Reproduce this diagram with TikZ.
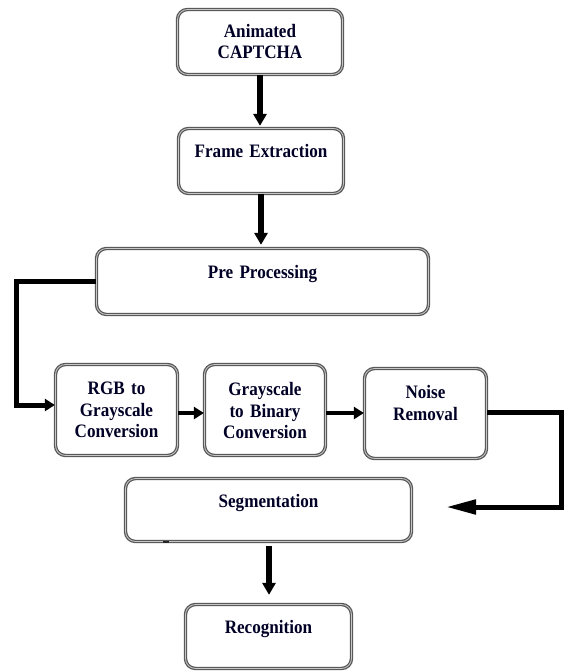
\documentclass[tikz,border=0pt]{standalone}
\usepackage{fontspec}
\setmainfont{Liberation Serif}
\newfontfamily\boxfont[FakeStretch=0.9,WordSpace=0.7]{Liberation Serif}
\usetikzlibrary{arrows.meta}
\begin{document}
\begin{tikzpicture}[x=1pt,y=-1pt,
  box/.style={draw=black!65, double=black!22, double distance=0.8pt, line width=1.3pt,
    rounded corners=10pt, fill=white, inner sep=0pt},
  txt/.style={anchor=base, inner sep=0pt, align=center, text width=130pt,
    font=\fontsize{19}{22.5}\boxfont\bfseries, text=black!85!blue},
  arr/.style={line width=5.5pt, line join=miter, -{Triangle[length=12pt,width=13pt]}},
  arrs/.style={line width=4pt, line join=miter, -{Triangle[length=10pt,width=12pt]}},
  arrl/.style={line width=5pt, line join=miter, -{Triangle[length=30pt,width=14pt]}}]
\useasboundingbox (0,0) rectangle (568,672);
% boxes
\node[box, minimum width=165pt, minimum height=65pt] (A) at (260,42) {};
\node[box, minimum width=165pt, minimum height=65pt] (B) at (261,161) {};
\node[box, minimum width=332pt, minimum height=66pt] (C) at (262.5,281.5) {};
\node[box, minimum width=122pt, minimum height=91pt] (D) at (116.5,410) {};
\node[box, minimum width=121pt, minimum height=91pt] (E) at (265,410) {};
\node[box, minimum width=122pt, minimum height=90pt] (F) at (425.5,413.5) {};
\node[box, minimum width=286pt, minimum height=63pt] (G) at (268.5,510) {};
\node[box, minimum width=166pt, minimum height=64pt] (H) at (268.5,636.5) {};
% texts
\node[txt] (At) at (260,37) {Animated\\[-1pt]CAPTCHA};
\node[txt, text width=160pt] (Bt) at (261,157) {Frame Extraction};
\node[txt, text width=160pt] (Ct) at (262.5,278) {Pre Processing};
\node[txt] (Dt) at (116.5,394) {RGB to\\Grayscale\\[-2pt]Conversion};
\node[txt] (Et) at (265,395) {Grayscale\\to Binary\\[-2pt]Conversion};
\node[txt] (Ft) at (425.5,398) {Noise\\Removal};
\node[txt, text width=160pt] (Gt) at (268.5,507) {Segmentation};
\node[txt, text width=160pt] (Ht) at (268.5,633) {Recognition};
% connectors
\coordinate (c1) at (16,281);
\coordinate (m1) at (203,413);
\coordinate (m2) at (362,413);
\coordinate (r1) at (561,412);
\coordinate (r2) at (561,507);
\coordinate (r3) at (446,507);
\draw[arr, shorten >=2pt] (A.south) -- (A.south |- B.north);
\draw[arr, shorten >=3pt] (B.south) -- (B.south |- C.north);
\draw[arrs, line width=5pt] (C.west |- c1) -- (c1) |- ([yshift=5pt]D.west);
\draw[arrs] (D.east |- m1) -- (E.west |- m1);
\draw[arrs] (E.east |- m2) -- (F.west |- m2);
\draw[arrl] (F.east |- r1) -- (r1) -- (r2) -- (r3);
\draw[arr, shorten <=4pt, shorten >=9pt] (G.south -| 269,0) -- (H.north -| 269,0);
% small mark
\draw[line width=1.6pt, black!85] (163,542) -- (169,542);
\end{tikzpicture}
\end{document}
